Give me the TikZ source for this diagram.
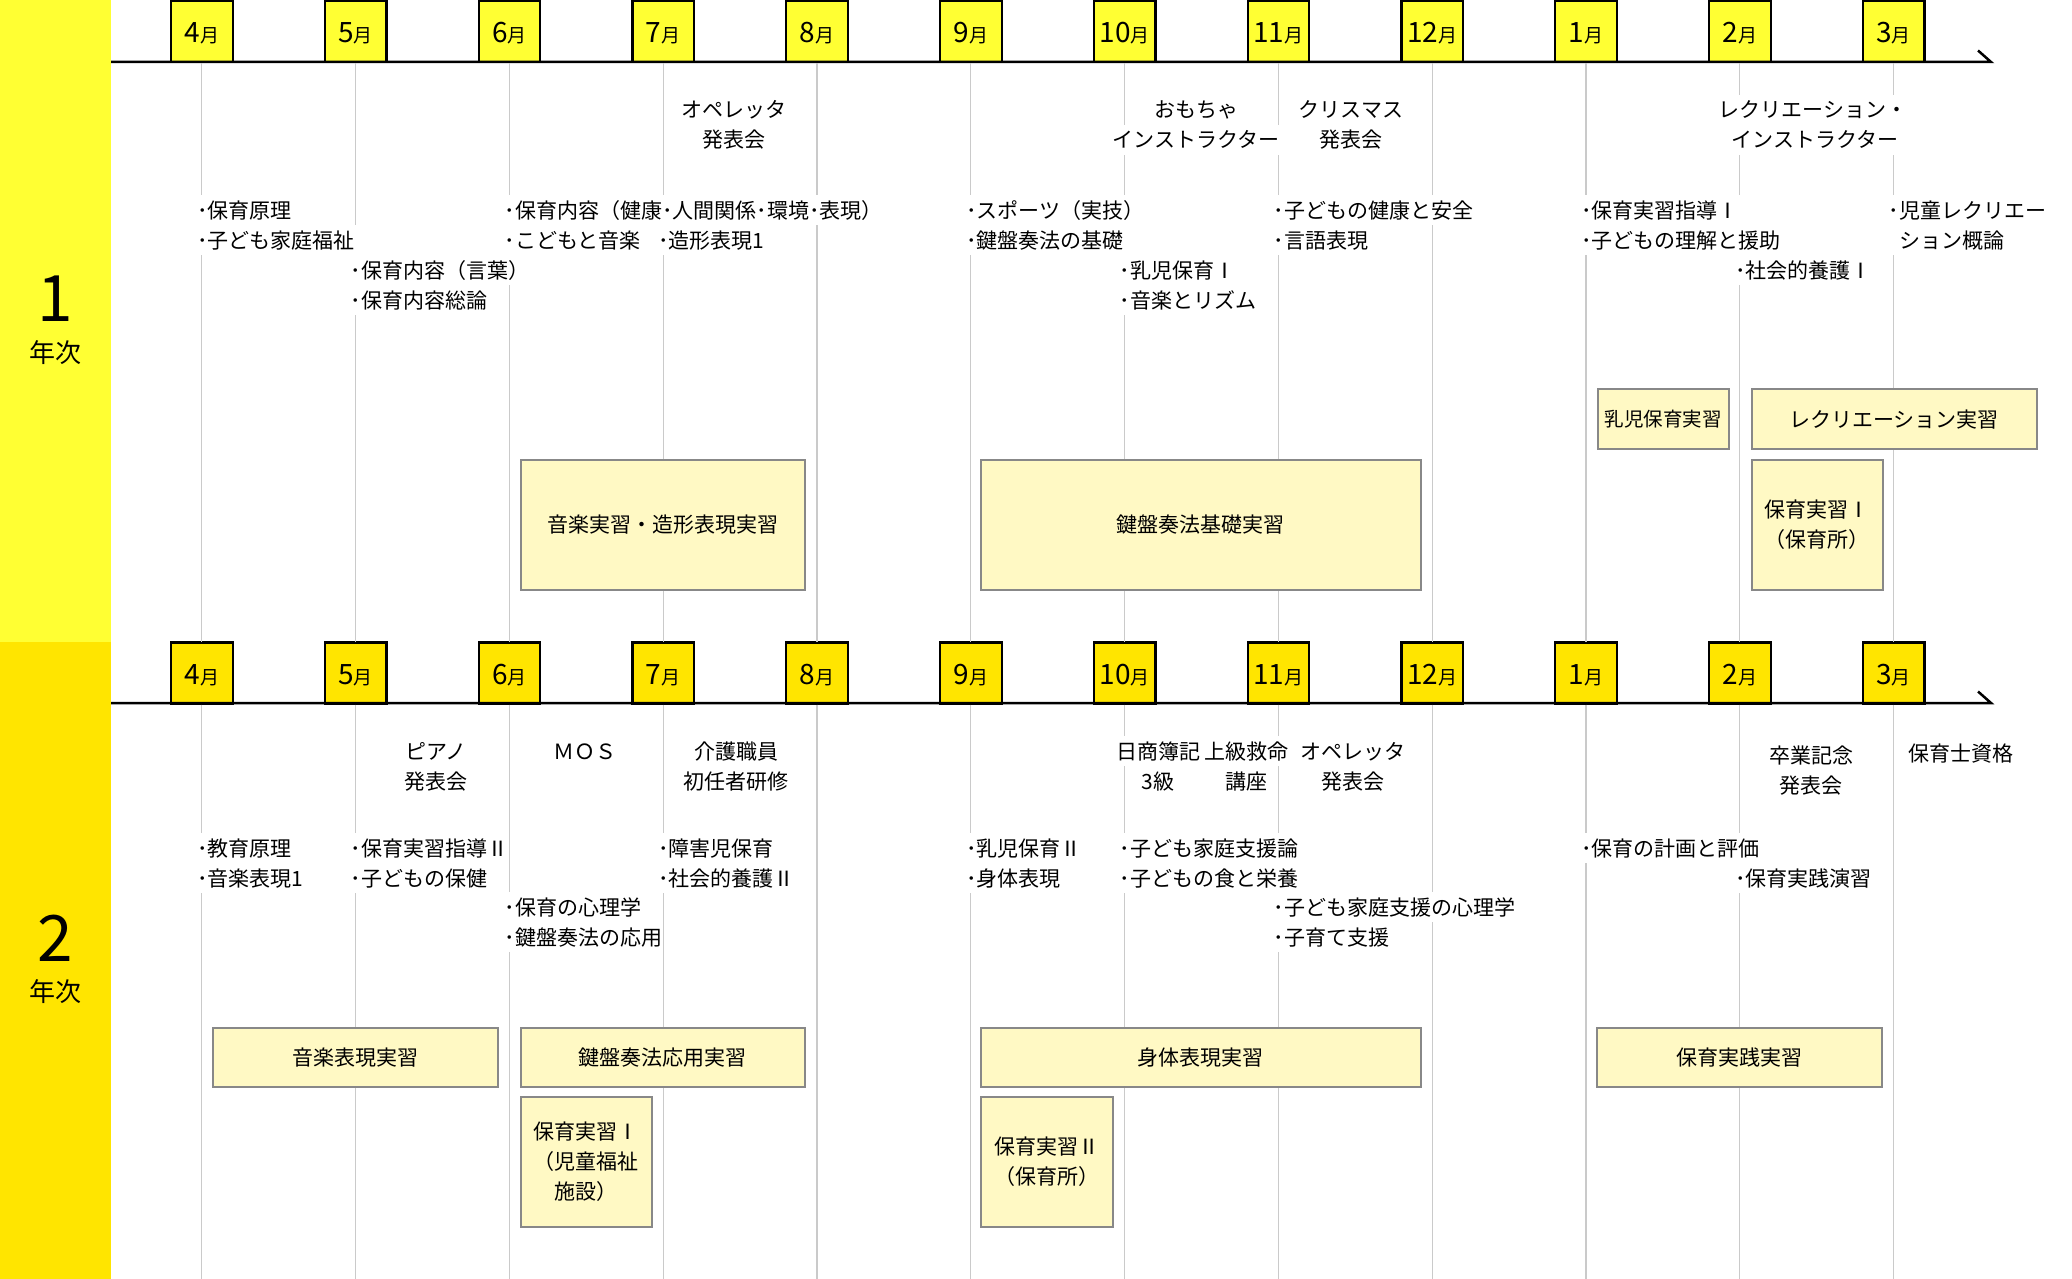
\documentclass[tikz,border=0pt]{standalone}
\usepackage{fontspec}
\setmainfont{Noto Sans CJK JP}

\definecolor{yrA}{HTML}{FFFF33}
\definecolor{yrB}{HTML}{FFE500}
\definecolor{boxfill}{HTML}{FFF9C4}
\definecolor{boxline}{HTML}{888888}
\definecolor{gridgrey}{HTML}{CACACA}

\newcommand{\tsuki}[1]{{\fontsize{28}{28}\selectfont #1}{\fontsize{19}{19}\selectfont 月}}

\tikzset{
  monthbox/.style={draw=black,line width=2.2pt,minimum width=61.6pt,minimum height=61pt,inner sep=0pt,text height=23pt,text depth=1pt},
  course/.style={anchor=west,fill=white,inner xsep=1pt,inner ysep=0pt,text height=23pt,text depth=7pt,font=\fontsize{21}{30}\selectfont},
  eventlbl/.style={fill=white,inner xsep=3pt,inner ysep=0pt,text height=23pt,text depth=7pt,font=\fontsize{21}{30}\selectfont},
  practice/.style={draw=boxline,fill=boxfill,line width=2pt,align=center,inner sep=0pt,font=\fontsize{21}{30}\selectfont},
  gridline/.style={color=gridgrey,line width=1.2pt},
  axisline/.style={draw=black,line width=2.5pt,line join=miter},
  yearnum/.style={font=\fontsize{64}{64}\selectfont},
  yeartxt/.style={font=\fontsize{26}{26}\selectfont}
}

\begin{document}
\begin{tikzpicture}[x=1pt,y=-1pt]
\useasboundingbox (0,0) rectangle (2072,1279);

% year bands
\fill[yrA] (0,0) rectangle (111,642);
\fill[yrB] (0,642) rectangle (111,1279);
\node(y1num) at (55.5,299)[yearnum] {1};
\node(y1txt) at (55.5,353)[yeartxt] {年次};
\node(y2num) at (55.5,938)[yearnum] {2};
\node(y2txt) at (55.5,992)[yeartxt] {年次};

\coordinate(startA) at (111,62);
\coordinate(endA) at (1991,62);
\coordinate(tipA) at (1978,50.5);
\coordinate(bottomA) at (0,642);
\coordinate(startB) at (111,703);
\coordinate(endB) at (1991,703);
\coordinate(tipB) at (1978,691.5);
\coordinate(bottomB) at (0,1279);

% months, 1st year
\node(a4) at (201.8,31.5)[monthbox,fill=yrA]  {\tsuki{4}};
\node(a5) at (355.6,31.5)[monthbox,fill=yrA]  {\tsuki{5}};
\node(a6) at (509.4,31.5)[monthbox,fill=yrA]  {\tsuki{6}};
\node(a7) at (663.2,31.5)[monthbox,fill=yrA]  {\tsuki{7}};
\node(a8) at (817.0,31.5)[monthbox,fill=yrA]  {\tsuki{8}};
\node(a9) at (970.8,31.5)[monthbox,fill=yrA]  {\tsuki{9}};
\node(a10) at (1124.6,31.5)[monthbox,fill=yrA] {\tsuki{10}};
\node(a11) at (1278.4,31.5)[monthbox,fill=yrA] {\tsuki{11}};
\node(a12) at (1432.2,31.5)[monthbox,fill=yrA] {\tsuki{12}};
\node(a1) at (1586.0,31.5)[monthbox,fill=yrA]  {\tsuki{1}};
\node(a2) at (1739.8,31.5)[monthbox,fill=yrA]  {\tsuki{2}};
\node(a3) at (1893.6,31.5)[monthbox,fill=yrA]  {\tsuki{3}};

% months, 2nd year
\node(b4) at (201.8,673)[monthbox,fill=yrB]  {\tsuki{4}};
\node(b5) at (355.6,673)[monthbox,fill=yrB]  {\tsuki{5}};
\node(b6) at (509.4,673)[monthbox,fill=yrB]  {\tsuki{6}};
\node(b7) at (663.2,673)[monthbox,fill=yrB]  {\tsuki{7}};
\node(b8) at (817.0,673)[monthbox,fill=yrB]  {\tsuki{8}};
\node(b9) at (970.8,673)[monthbox,fill=yrB]  {\tsuki{9}};
\node(b10) at (1124.6,673)[monthbox,fill=yrB] {\tsuki{10}};
\node(b11) at (1278.4,673)[monthbox,fill=yrB] {\tsuki{11}};
\node(b12) at (1432.2,673)[monthbox,fill=yrB] {\tsuki{12}};
\node(b1) at (1586.0,673)[monthbox,fill=yrB]  {\tsuki{1}};
\node(b2) at (1739.8,673)[monthbox,fill=yrB]  {\tsuki{2}};
\node(b3) at (1893.6,673)[monthbox,fill=yrB]  {\tsuki{3}};

\draw[axisline] (startA) -- (endA) -- (tipA);
\draw[axisline] (startB) -- (endB) -- (tipB);

\path [gridline]
  (a4)  edge (a4 |- bottomA)   (a5)  edge (a5 |- bottomA)   (a6)  edge (a6 |- bottomA)
  (a7)  edge (a7 |- bottomA)   (a8)  edge (a8 |- bottomA)   (a9)  edge (a9 |- bottomA)
  (a10) edge (a10 |- bottomA)  (a11) edge (a11 |- bottomA)  (a12) edge (a12 |- bottomA)
  (a1)  edge (a1 |- bottomA)   (a2)  edge (a2 |- bottomA)   (a3)  edge (a3 |- bottomA)
  (b4)  edge (b4 |- bottomB)   (b5)  edge (b5 |- bottomB)   (b6)  edge (b6 |- bottomB)
  (b7)  edge (b7 |- bottomB)   (b8)  edge (b8 |- bottomB)   (b9)  edge (b9 |- bottomB)
  (b10) edge (b10 |- bottomB)  (b11) edge (b11 |- bottomB)  (b12) edge (b12 |- bottomB)
  (b1)  edge (b1 |- bottomB)   (b2)  edge (b2 |- bottomB)   (b3)  edge (b3 |- bottomB);

% events, 1st year
\node(e1op1) at (733.5,110)[eventlbl] {オペレッタ};
\node(e1op2) at (733.5,140)[eventlbl] {発表会};
\node(e1toy1) at (1196,110)[eventlbl] {おもちゃ};
\node(e1toy2) at (1196,140)[eventlbl] {インストラクター};
\node(e1xm1) at (1351,110)[eventlbl] {クリスマス};
\node(e1xm2) at (1351,140)[eventlbl] {発表会};
\node(e1rec1) at (1813,110)[eventlbl] {レクリエーション・};
\node(e1rec2) at (1815,140)[eventlbl] {インストラクター};

% courses, 1st year
\node(c1a) at (195.8,210)[course] {･保育原理};
\node(c1b) at (195.8,240)[course] {･子ども家庭福祉};
\node(c1c) at (349.6,270)[course] {･保育内容（言葉）};
\node(c1d) at (349.6,300)[course] {･保育内容総論};
\node(c1e) at (503.4,210)[course] {･保育内容（健康･人間関係･環境･表現）};
\node(c1f) at (503.4,240)[course] {･こどもと音楽};
\node(c1g) at (657.2,240)[course] {･造形表現1};
\node(c1h) at (964.8,210)[course] {･スポーツ（実技）};
\node(c1i) at (964.8,240)[course] {･鍵盤奏法の基礎};
\node(c1j) at (1118.6,270)[course] {･乳児保育Ⅰ};
\node(c1k) at (1118.6,300)[course] {･音楽とリズム};
\node(c1l) at (1272.4,210)[course] {･子どもの健康と安全};
\node(c1m) at (1272.4,240)[course] {･言語表現};
\node(c1n) at (1580.0,210)[course] {･保育実習指導Ⅰ};
\node(c1o) at (1580.0,240)[course] {･子どもの理解と援助};
\node(c1p) at (1733.8,270)[course] {･社会的養護Ⅰ};
\node(c1q) at (1887.6,210)[course] {･児童レクリエー};
\node(c1r) at (1887.6,240)[course] {\hphantom{･}ション概論};

% practice, 1st year
\node(p1a) at (662.6,524.75)[practice,minimum width=283.8pt,minimum height=130.5pt] {音楽実習・造形表現実習};
\node(p1b) at (1200.5,524.75)[practice,minimum width=440pt,minimum height=130.5pt] {鍵盤奏法基礎実習};
\node(p1c) at (1663,419.2)[practice,minimum width=131pt,minimum height=59.7pt,font=\fontsize{19.5}{30}\selectfont] {乳児保育実習};
\node(p1d) at (1894,419.2)[practice,minimum width=285pt,minimum height=59.7pt] {レクリエーション実習};
\node(p1e) at (1817,524.75)[practice,minimum width=131pt,minimum height=130.5pt] {保育実習Ⅰ\\（保育所）};

% events, 2nd year
\node(e2pf1) at (436,751)[eventlbl] {ピアノ};
\node(e2pf2) at (436,781)[eventlbl] {発表会};
\node(e2mos) at (585,751)[eventlbl] {ＭＯＳ};
\node(e2kg1) at (736,751)[eventlbl] {介護職員};
\node(e2kg2) at (736,781)[eventlbl] {初任者研修};
\node(e2bk1) at (1158,751)[eventlbl] {日商簿記};
\node(e2bk2) at (1158,781)[eventlbl] {3級};
\node(e2qq1) at (1246,751)[eventlbl] {上級救命};
\node(e2qq2) at (1246,781)[eventlbl] {講座};
\node(e2op1) at (1353,751)[eventlbl] {オペレッタ};
\node(e2op2) at (1353,781)[eventlbl] {発表会};
\node(e2gr1) at (1811,755)[eventlbl] {卒業記念};
\node(e2gr2) at (1811,785)[eventlbl] {発表会};
\node(e2lic) at (1961,753)[eventlbl] {保育士資格};

% courses, 2nd year
\node(c2a) at (195.8,848)[course] {･教育原理};
\node(c2b) at (195.8,878)[course] {･音楽表現1};
\node(c2c) at (349.6,848)[course] {･保育実習指導Ⅱ};
\node(c2d) at (349.6,878)[course] {･子どもの保健};
\node(c2e) at (503.4,907)[course] {･保育の心理学};
\node(c2f) at (503.4,937)[course] {･鍵盤奏法の応用};
\node(c2g) at (657.2,848)[course] {･障害児保育};
\node(c2h) at (657.2,878)[course] {･社会的養護Ⅱ};
\node(c2i) at (964.8,848)[course] {･乳児保育Ⅱ};
\node(c2j) at (964.8,878)[course] {･身体表現};
\node(c2k) at (1118.6,848)[course] {･子ども家庭支援論};
\node(c2l) at (1118.6,878)[course] {･子どもの食と栄養};
\node(c2m) at (1272.4,907)[course] {･子ども家庭支援の心理学};
\node(c2n) at (1272.4,937)[course] {･子育て支援};
\node(c2o) at (1580.0,848)[course] {･保育の計画と評価};
\node(c2p) at (1733.8,878)[course] {･保育実践演習};

% practice, 2nd year
\node(p2a) at (355.25,1057.5)[practice,minimum width=284.5pt,minimum height=59.6pt] {音楽表現実習};
\node(p2b) at (662.6,1057.5)[practice,minimum width=283.8pt,minimum height=59.6pt] {鍵盤奏法応用実習};
\node(p2c) at (586.35,1162)[practice,minimum width=131.3pt,minimum height=129.4pt] {保育実習Ⅰ\\（児童福祉\\施設）};
\node(p2d) at (1200.5,1057.5)[practice,minimum width=440pt,minimum height=59.6pt] {身体表現実習};
\node(p2e) at (1046.5,1162)[practice,minimum width=132pt,minimum height=129.4pt] {保育実習Ⅱ\\（保育所）};
\node(p2f) at (1739.6,1057.5)[practice,minimum width=285.6pt,minimum height=59.6pt] {保育実践実習};

\end{tikzpicture}
\end{document}
